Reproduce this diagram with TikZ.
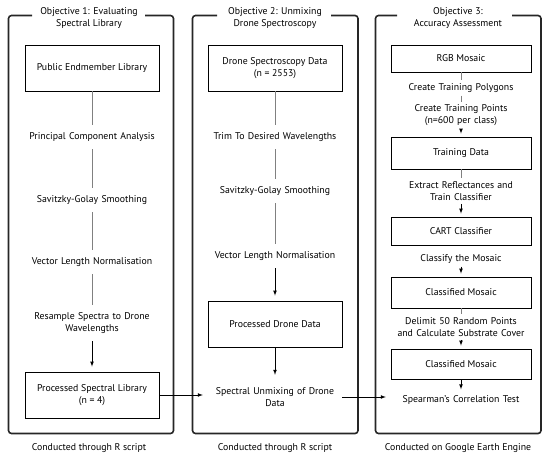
\documentclass[tikz,border=0pt]{standalone}
\usepackage{fontspec}
\setmainfont{PT Sans}
\usetikzlibrary{positioning}
\begin{document}
\begin{tikzpicture}[x=1pt, y=-1pt, font=\fontsize{9.8}{12}\selectfont,
    box/.style={draw, line width=0.8pt, minimum width=134pt, minimum height=46pt, align=center},
    stage/.style={text width=128pt, align=center, inner xsep=3pt, inner ysep=7.5pt},
    tight/.style={stage, text width=134pt, inner ysep=3pt},
    frame/.style={draw=black!85, line width=1.6pt, rounded corners=3pt},
    link/.style={draw=black!50, line width=0.6pt},
    flow/.style={draw=black, line width=0.7pt, -latex, shorten >=5pt}]
    \useasboundingbox (0,0) rectangle (550,459);
    \draw[frame] (32,15.5) -| (8.5,433.5) -| (173.5,15.5) -- (145,15.5);
    \draw[frame] (217,15.5) -| (192.5,433.5) -| (358,15.5) -- (331,15.5);
    \draw[frame] (397,15.5) -| (375.5,433.5) -| (541,15.5) -- (512,15.5);
    \node[align=center] (t1) at (89,18) {Objective 1: Evaluating\\Spectral Library};
    \node[align=center] (t2) at (275,18) {Objective 2: Unmixing\\Drone Spectroscopy};
    \node[align=center] (t3) at (458,18) {Objective 3:\\Accuracy Assessment};
    \node (f1) at (89,448) {Conducted through R script};
    \node (f2) at (275,448) {Conducted through R script};
    \node (f3) at (458,448) {Conducted on Google Earth Engine};
    \node[box] (1) at (92,68) {Public Endmember Library};
    \node[stage] (2) [node distance=69pt, below of=1] {Principal Component Analysis};
    \node[stage] (3) [node distance=63pt, below of=2] {Savitzky-Golay Smoothing};
    \node[stage] (4) [node distance=62pt, below of=3] {Vector Length Normalisation};
    \node[stage] (5) [node distance=61pt, below of=4] {Resample Spectra to Drone\\Wavelengths};
    \node[box] (6) [node distance=72pt, below of=5] {Processed Spectral Library\\(n = 4)};
    \node[box] (7) at (275,68) {Drone Spectroscopy Data\\(n = 2553)};
    \node[stage] (8) [node distance=69pt, below of=7] {Trim To Desired Wavelengths};
    \node[stage] (9) [node distance=54pt, below of=8] {Savitzky-Golay Smoothing};
    \node[stage] (10) [node distance=65pt, below of=9] {Vector Length Normalisation};
    \node[box] (11) [node distance=68pt, below of=10] {Processed Drone Data};
    \node[stage] (12) [node distance=73pt, below of=11] {Spectral Unmixing of Drone\\Data};
    \node[box, minimum width=140pt, minimum height=27pt] (13) at (461,58.5) {RGB Mosaic};
    \node[tight] (14) [node distance=29.5pt, below of=13] {Create Training Polygons};
    \node[tight] (15) [node distance=27.5pt, below of=14] {Create Training Points\\(n=600 per class)};
    \node[box, minimum width=140pt, minimum height=32pt] (16) [node distance=37.5pt, below of=15] {Training Data};
    \node[tight] (17) [node distance=38pt, below of=16] {Extract Reflectances and\\Train Classifier};
    \node[box, minimum width=140pt, minimum height=28pt] (18) [node distance=40pt, below of=17] {CART Classifier};
    \node[tight] (19) [node distance=28pt, below of=18] {Classify the Mosaic};
    \node[box, minimum width=140pt, minimum height=31pt] (20) [node distance=33.5pt, below of=19] {Classified Mosaic};
    \node[tight] (21) [node distance=34.5pt, below of=20] {Delimit 50 Random Points\\and Calculate Substrate Cover};
    \node[box, minimum width=140pt, minimum height=30pt] (22) [node distance=37pt, below of=21] {Classified Mosaic};
    \node[tight] (23) [node distance=36pt, below of=22] {Spearman's Correlation Test};
    \path[link] (1) -- (2) (2) -- (3) (3) -- (4) (4) -- (5);
    \path[link] (7) -- (8) (8) -- (9) (9) -- (10);
    \path[link] (13) -- (14) (14) -- (15) (16) -- (17) (20) -- (21);
    \draw[flow] (5) -- (6);
    \draw[flow] (10) -- (11);
    \draw[flow] (11) -- (12);
    \draw[flow, shorten >=3pt] (15) -- (16);
    \draw[flow, shorten >=3pt] (17) -- (18);
    \draw[flow, shorten >=3pt] (19) -- (20);
    \draw[flow, shorten >=3pt] (21) -- (22);
    \draw[flow, shorten >=3pt] (22) -- (23);
    \draw[flow] (6.east) -- (6.east -| 12.west);
    \draw[flow] (12.east) -- (12.east -| 23.west);
\end{tikzpicture}
\end{document}
